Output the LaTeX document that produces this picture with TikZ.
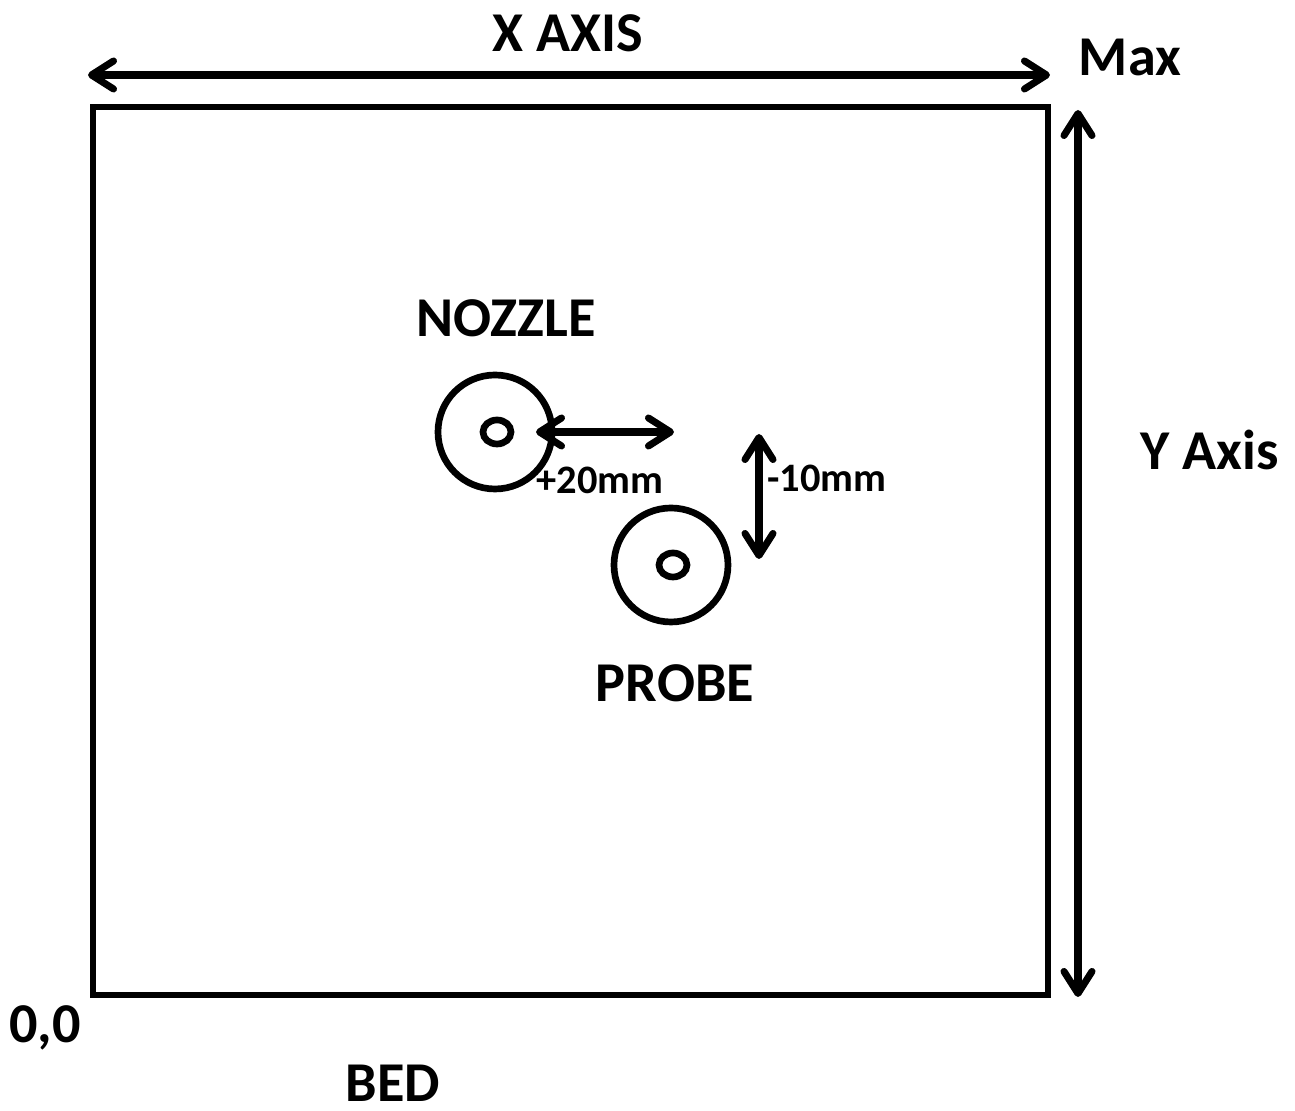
\documentclass[tikz,border=0pt]{standalone}
\usepackage{fontspec}
\setmainfont{Carlito}
\usetikzlibrary{arrows.meta,shapes.geometric}

\begin{document}
\begin{tikzpicture}[
    axisline/.style={
        line width=2pt,
        {Straight Barb[length=2.2mm,width=2.8mm,round]}-{Straight Barb[length=2.2mm,width=2.8mm,round]}
    },
    label/.style={
        font=\bfseries\fontsize{16}{18}\selectfont,
        inner sep=0pt
    },
    small/.style={
        font=\bfseries\fontsize{11.5}{13}\selectfont,
        inner sep=0pt
    },
    ring/.style={
        circle,
        draw,
        line width=1.9pt,
        minimum size=11.4mm,
        inner sep=0pt
    },
    hole/.style={
        ellipse,
        draw,
        line width=1.9pt,
        minimum width=2.8mm,
        minimum height=2.4mm,
        inner sep=0pt
    }
]
    \useasboundingbox (0,0) rectangle (12.95,11.11);

    % Bed
    \draw[line width=1.9pt] (0.93,1.16) rectangle (10.48,10.04);

    % Axis ends
    \coordinate (XL) at (0.88,10.36);
    \coordinate (XR) at (10.50,10.36);
    \coordinate (YT) at (10.78,10.01);
    \coordinate (YB) at (10.78,1.14);

    % Axes
    \draw[axisline] (XL) -- (XR);
    \draw[axisline] (YB) -- (YT);

    % Nozzle and probe
    \node[ring] (nozzle) at (4.95,6.79) {};
    \node[hole] (nozzlehole) at (4.97,6.79) {};
    \node[ring] (probe) at (6.71,5.46) {};
    \node[hole] (probehole) at (6.73,5.46) {};

    % Offset ends
    \coordinate (HL) at (5.36,6.79);
    \coordinate (HR) at (6.74,6.79);
    \coordinate (VT) at (7.59,6.77);
    \coordinate (VB) at (7.59,5.52);

    % Offsets
    \draw[axisline] (HL) -- (HR);
    \draw[axisline] (VB) -- (VT);

    % Labels
    \node[label] (xaxis) at (5.68,10.78) {X AXIS};
    \node[label] (max) at (11.30,10.54) {Max};
    \node[label] (yaxis) at (12.10,6.61) {Y Axis};
    \node[label] (nozzlelabel) at (5.06,7.93) {NOZZLE};
    \node[label] (probelabel) at (6.75,4.28) {PROBE};
    \node[label] (origin) at (0.45,0.83) {0,0};
    \node[label] (bed) at (3.93,0.28) {BED};
    \node[small] (xoffset) at (6.00,6.31) {+20mm};
    \node[small] (yoffset) at (8.27,6.33) {-10mm};

\end{tikzpicture}
\end{document}
